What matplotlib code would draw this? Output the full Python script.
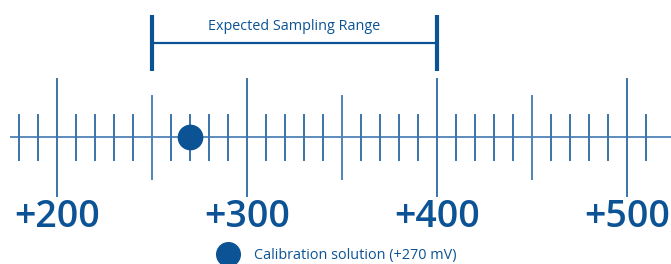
import matplotlib.pyplot as plt
import numpy as np

# number line values (mV)
minor_ticks = np.arange(180, 511, 10)
major_ticks = [200, 300, 400, 500]
medium_ticks = [250, 350, 450]
major_labels = ['+200', '+300', '+400', '+500']
range_lo, range_hi = 250, 400
range_label = 'Expected Sampling Range'
calibration = 270
legend_label = 'Calibration solution (+270 mV)'

blue = '#0b5394'
tick_col = '#3a73aa'

plt.rcParams['font.family'] = ['Open Sans', 'DejaVu Sans']

figure = plt.figure(figsize=(6.71, 2.64), dpi=100)
axis = figure.add_axes([0, 0, 1, 1])
# x in mV, y in pixels from top
axis.set_xlim(200 - 57 / 1.9, 200 + 614 / 1.9)
axis.set_ylim(264, 0)
axis.axis('off')

# baseline
axis.plot([175.3, 530], [137, 137], color='#4f84b6', lw=1.3, solid_capstyle='butt')

# ticks
for v in minor_ticks:
    if v in major_ticks:
        axis.plot([v, v], [79, 196], color=tick_col, lw=1.4)
    elif v in medium_ticks:
        axis.plot([v, v], [96, 179], color='#4f84b6', lw=1.4)
    else:
        axis.plot([v, v], [115, 160], color=tick_col, lw=1.4)

for v, lab in zip(major_ticks, major_labels):
    axis.text(v, 217, lab, ha='center', va='center', fontsize=27,
              fontweight='semibold', color=blue)

# expected sampling range bracket
axis.plot([range_lo, range_hi], [42.7, 42.7], color=blue, lw=1.6, solid_capstyle='butt')
axis.plot([range_lo, range_lo], [15, 71], color=blue, lw=3, solid_capstyle='butt')
axis.plot([range_hi, range_hi], [15, 71], color=blue, lw=3, solid_capstyle='butt')
axis.text((range_lo + range_hi) / 2, 26, range_label, ha='center', va='center',
          fontsize=10.4, color=blue)

# calibration point
axis.plot(calibration, 137, 'o', color=blue, markersize=17.5)

# legend
axis.plot(200 + (228 - 57) / 1.9, 254, 'o', color=blue, markersize=17)
axis.text(200 + (254 - 57) / 1.9, 255, legend_label, ha='left', va='center',
          fontsize=10.4, color=blue)

figure.savefig('out.png', dpi=100)
